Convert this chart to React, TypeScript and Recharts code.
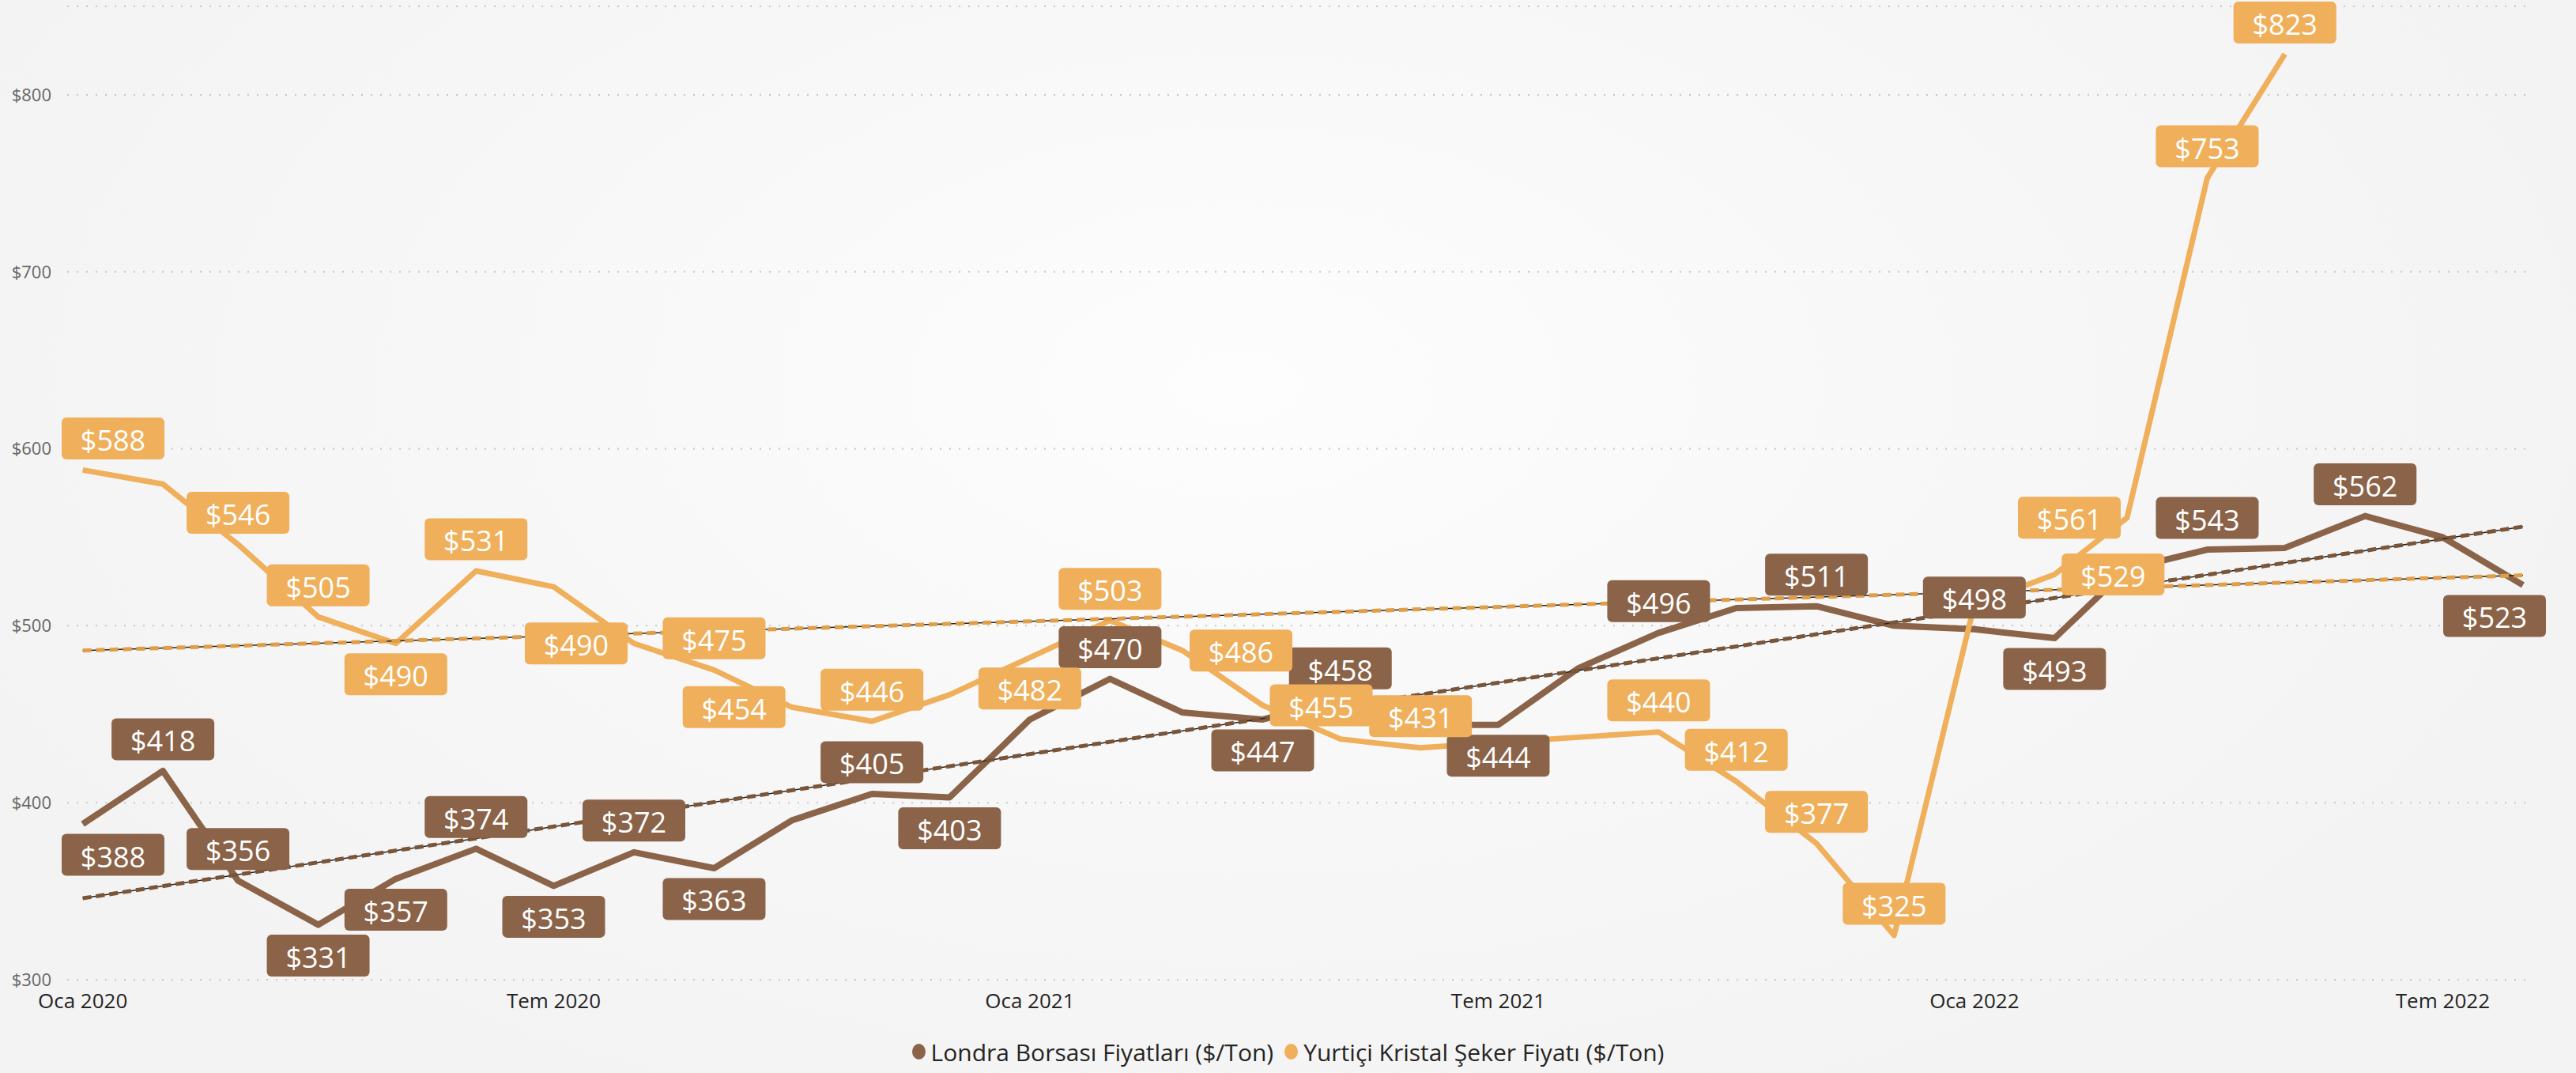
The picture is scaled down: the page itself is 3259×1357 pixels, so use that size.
import { CartesianGrid, LabelList, Legend, Line, LineChart, XAxis, YAxis } from "recharts"

const MONTHS = [
  "2020-01", "2020-02", "2020-03", "2020-04", "2020-05", "2020-06",
  "2020-07", "2020-08", "2020-09", "2020-10", "2020-11", "2020-12",
  "2021-01", "2021-02", "2021-03", "2021-04", "2021-05", "2021-06",
  "2021-07", "2021-08", "2021-09", "2021-10", "2021-11", "2021-12",
  "2022-01", "2022-02", "2022-03", "2022-04", "2022-05", "2022-06",
  "2022-07", "2022-08",
]

// Londra Borsası Fiyatları ($/Ton)
const LONDRA = [
  388, 418, 356, 331, 357, 374, 353, 372, 363, 390, 405, 403,
  447, 470, 451, 447, 458, 444, 444, 476, 496, 510, 511, 500,
  498, 493, 532, 543, 544, 562, 550, 523,
]

// Yurtiçi Kristal Şeker Fiyatı ($/Ton) – no data after May 2022
const YURTICI = [
  588, 580, 546, 505, 490, 531, 522, 490, 475, 454, 446, 461,
  482, 503, 486, 455, 436, 431, 434, 437, 440, 412, 377, 325,
  512, 529, 561, 753, 823, null, null, null,
]

// trend lines: value at the first and at the last month
const LONDRA_TREND = [346, 556]
const YURTICI_TREND = [486, 528.5]

const TICK_MONTHS = ["2020-01", "2020-07", "2021-01", "2021-07", "2022-01", "2022-07"]
const TICK_LABELS = ["Oca 2020", "Tem 2020", "Oca 2021", "Tem 2021", "Oca 2022", "Tem 2022"]
const Y_TICKS = [300, 400, 500, 600, 700, 800]

const SERIES_NAMES = ["Londra Borsası Fiyatları ($/Ton)", "Yurtiçi Kristal Şeker Fiyatı ($/Ton)"]
const BROWN = "#8A6349"
const ORANGE = "#EFAF5B"

// label placement per point: a = above, b = below, l = left, r = right, - = hidden
const LONDRA_PLACES = "b a a b b a b a b - a b - a - b a - b - a - a - a b - a - a - b".split(" ")
const YURTICI_PLACES = "a - a a b a - l a l a - b a r r - a - - a a a a - r l a a".split(" ")

const FONT = "'Segoe UI', 'Open Sans', sans-serif"
const W = 3259
const H = 1357

const BASE = Date.UTC(2020, 0, 1)
const toDay = (m: string) => {
  const [y, mo] = m.split("-").map(Number)
  return (Date.UTC(y, mo - 1, 1) - BASE) / 86400000
}

const days = MONTHS.map(toDay)
const last = MONTHS.length - 1

const data = MONTHS.map((m, i) => ({
  day: days[i],
  londra: LONDRA[i],
  yurtici: YURTICI[i],
  londraTrend: i === 0 ? LONDRA_TREND[0] : i === last ? LONDRA_TREND[1] : null,
  yurticiTrend: i === 0 ? YURTICI_TREND[0] : i === last ? YURTICI_TREND[1] : null,
}))

const tickDays = TICK_MONTHS.map(toDay)

function makeLabel(places: string[], fill: string) {
  return (props: any) => {
    const { x, y, value, index } = props
    const place = places[index]
    if (!place || place === "-" || value == null) return null
    const w = 130
    const h = 53
    let cx = x
    let cy = y
    if (place === "a") cy = y - 40
    else if (place === "b") cy = y + 39
    else if (place === "l") cx = x - 8 - w / 2
    else if (place === "r") cx = x + 9 + w / 2
    cx = Math.min(Math.max(cx, 78 + w / 2), 3221 - w / 2)
    return (
      <g>
        <rect x={cx - w / 2} y={cy - h / 2} width={w} height={h} rx={6} fill={fill} />
        <text
          x={cx}
          y={cy}
          dy={2}
          textAnchor="middle"
          dominantBaseline="central"
          fill="#fff"
          fontSize={36}
          fontFamily={FONT}
        >
          {"$" + value}
        </text>
      </g>
    )
  }
}

function ChartLegend() {
  const colors = [BROWN, ORANGE]
  return (
    <div
      style={{
        height: 40,
        display: "flex",
        justifyContent: "center",
        alignItems: "center",
        gap: 14,
        fontFamily: FONT,
        fontSize: 30,
        color: "#252423",
      }}
    >
      {SERIES_NAMES.map((name, i) => (
        <div key={name} style={{ display: "flex", alignItems: "center", gap: 7 }}>
          <span
            style={{ width: 17, height: 20, borderRadius: "50%", background: colors[i], display: "inline-block" }}
          />
          <span>{name}</span>
        </div>
      ))}
    </div>
  )
}

export default function App() {
  return (
    <div
      style={{
        position: "absolute",
        left: 0,
        top: 0,
        width: W,
        height: H,
        background: "radial-gradient(ellipse 55% 75% at 48% 36%, #fdfdfd 0%, #f7f7f7 55%, #f3f3f3 100%)",
      }}
    >
      <LineChart width={W} height={H} data={data} margin={{ top: 8, right: 54, bottom: 38, left: 0 }}>
        <CartesianGrid vertical={false} stroke="#c6c6c6" strokeWidth={2} strokeDasharray="2 10" />
        <XAxis
          dataKey="day"
          type="number"
          domain={[-6, 947]}
          ticks={tickDays}
          tickFormatter={(d) => TICK_LABELS[tickDays.indexOf(d)] ?? ""}
          axisLine={false}
          tickLine={false}
          tickSize={0}
          tickMargin={18}
          height={40}
          interval={0}
          tick={{ fontSize: 26, fill: "#252423", fontFamily: FONT }}
        />
        <YAxis
          domain={[300, 850]}
          ticks={Y_TICKS}
          allowDataOverflow
          tickFormatter={(v) => "$" + v}
          axisLine={false}
          tickLine={false}
          tickSize={0}
          tickMargin={20}
          width={85}
          tick={{ fontSize: 22, fill: "#666666", fontFamily: FONT }}
        />
        <Legend
          verticalAlign="bottom"
          content={() => <ChartLegend />}
          wrapperStyle={{ left: 0, width: W, top: 1310, bottom: "auto", height: 40 }}
        />
        <Line
          dataKey="londra"
          stroke={BROWN}
          strokeWidth={8}
          strokeLinejoin="round"
          dot={false}
          activeDot={false}
          isAnimationActive={false}
        />
        <Line
          dataKey="yurtici"
          stroke={ORANGE}
          strokeWidth={7}
          strokeLinejoin="round"
          dot={false}
          activeDot={false}
          isAnimationActive={false}
        />
        <Line
          dataKey="londraTrend"
          connectNulls
          stroke="#222"
          strokeWidth={1.5}
          dot={false}
          activeDot={false}
          isAnimationActive={false}
        />
        <Line
          dataKey="londraTrend"
          connectNulls
          stroke="#7A5538"
          strokeWidth={5}
          strokeDasharray="11 6"
          dot={false}
          activeDot={false}
          isAnimationActive={false}
        />
        <Line
          dataKey="yurticiTrend"
          connectNulls
          stroke="#222"
          strokeWidth={1.5}
          dot={false}
          activeDot={false}
          isAnimationActive={false}
        />
        <Line
          dataKey="yurticiTrend"
          connectNulls
          stroke="#E09E48"
          strokeWidth={5}
          strokeDasharray="11 6"
          dot={false}
          activeDot={false}
          isAnimationActive={false}
        />
        <Line dataKey="londra" stroke="none" dot={false} activeDot={false} isAnimationActive={false}>
          <LabelList dataKey="londra" content={makeLabel(LONDRA_PLACES, BROWN)} />
        </Line>
        <Line dataKey="yurtici" stroke="none" dot={false} activeDot={false} isAnimationActive={false}>
          <LabelList dataKey="yurtici" content={makeLabel(YURTICI_PLACES, ORANGE)} />
        </Line>
      </LineChart>
    </div>
  )
}
